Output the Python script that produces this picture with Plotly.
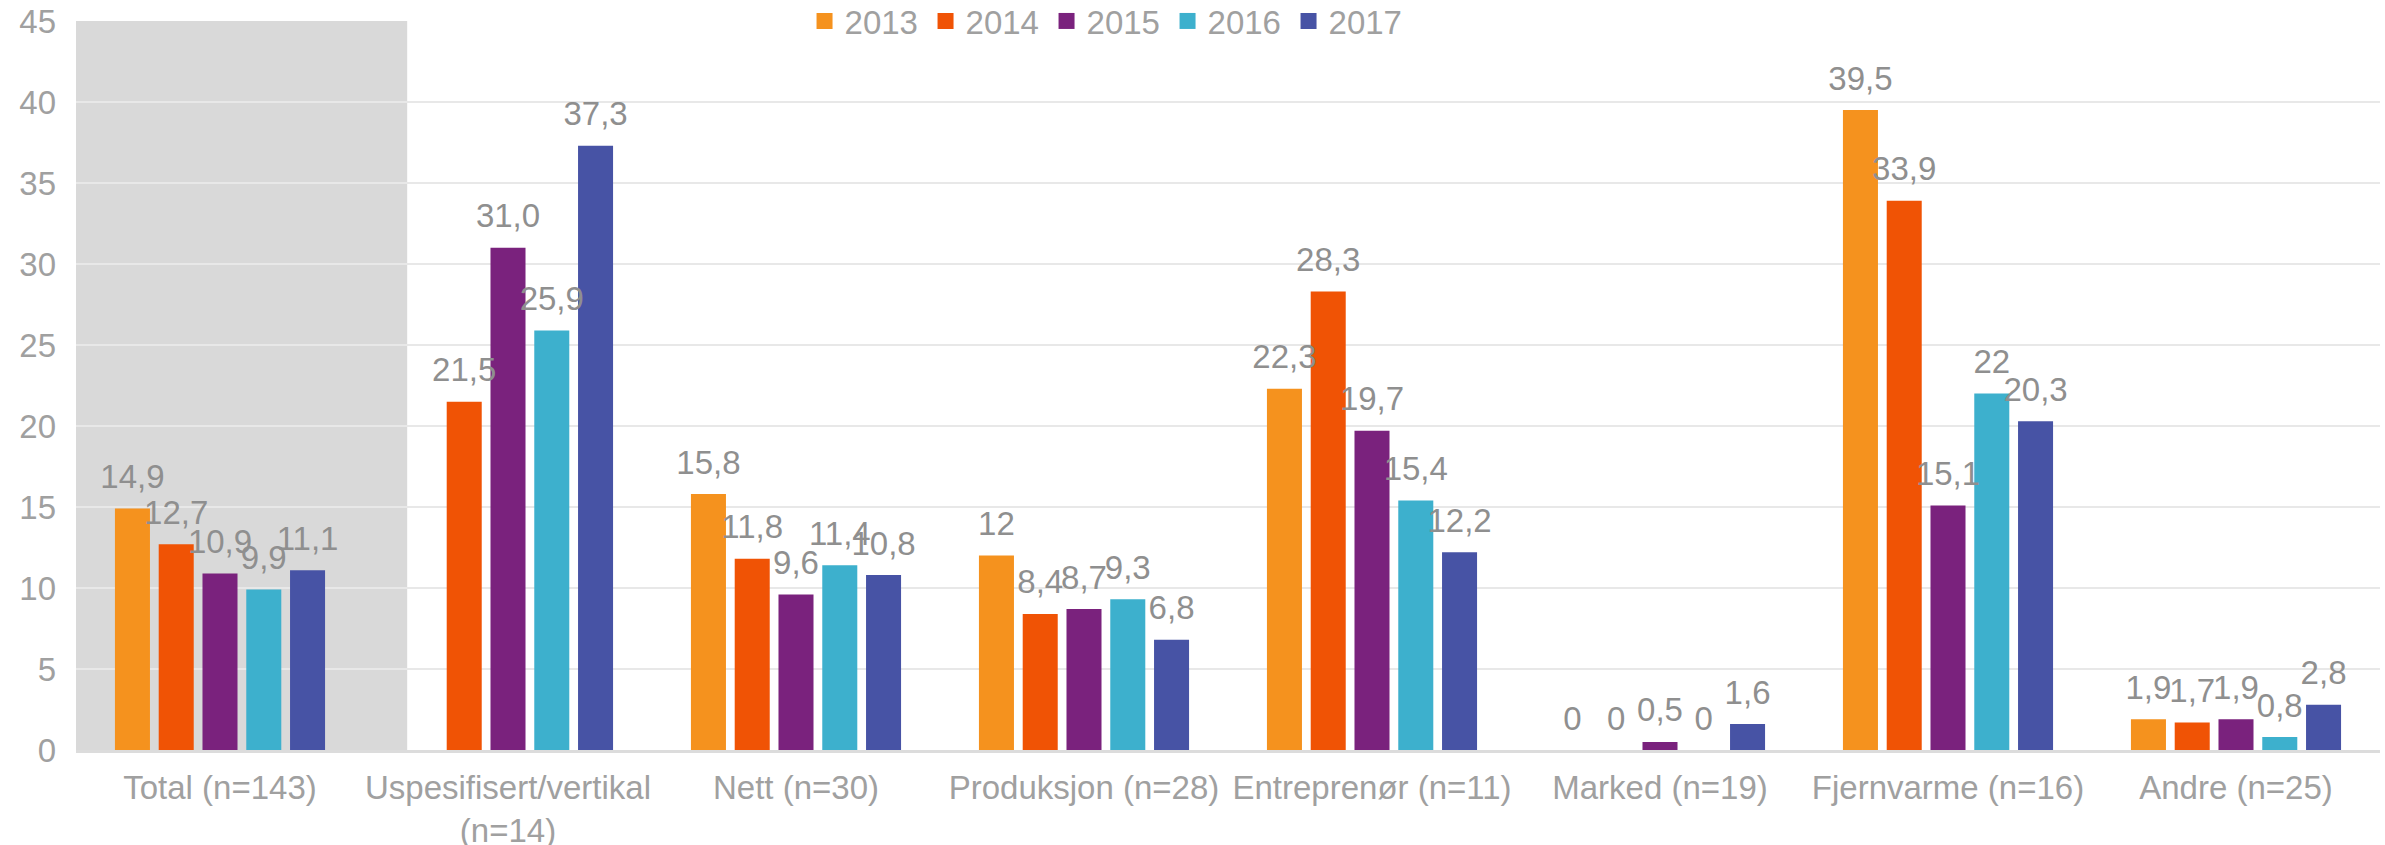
import plotly.graph_objects as go

categories = ["Total (n=143)", "Uspesifisert/vertikal<br>(n=14)", "Nett (n=30)", "Produksjon (n=28)",
              "Entreprenør (n=11)", "Marked (n=19)", "Fjernvarme (n=16)", "Andre (n=25)"]
years = ["2013", "2014", "2015", "2016", "2017"]

v2013 = [14.9, None, 15.8, 12, 22.3, 0, 39.5, 1.9]
v2014 = [12.7, 21.5, 11.8, 8.4, 28.3, 0, 33.9, 1.7]
v2015 = [10.9, 31.0, 9.6, 8.7, 19.7, 0.5, 15.1, 1.9]
v2016 = [9.9, 25.9, 11.4, 9.3, 15.4, 0, 22, 0.8]
v2017 = [11.1, 37.3, 10.8, 6.8, 12.2, 1.6, 20.3, 2.8]

t2013 = ["14,9", "", "15,8", "12", "22,3", "0", "39,5", "1,9"]
t2014 = ["12,7", "21,5", "11,8", "8,4", "28,3", "0", "33,9", "1,7"]
t2015 = ["10,9", "31,0", "9,6", "8,7", "19,7", "0,5", "15,1", "1,9"]
t2016 = ["9,9", "25,9", "11,4", "9,3", "15,4", "0", "22", "0,8"]
t2017 = ["11,1", "37,3", "10,8", "6,8", "12,2", "1,6", "20,3", "2,8"]

series = [v2013, v2014, v2015, v2016, v2017]
texts = [t2013, t2014, t2015, t2016, t2017]
colors = ["#F5921E", "#F05305", "#7A227D", "#3DB0CD", "#4753A5"]

FONT = "Liberation Sans, Arial, sans-serif"
FS = 33
fig = go.Figure()
for name, vals, col in zip(years, series, colors):
    fig.add_trace(go.Bar(name=name, x=categories, y=vals, marker_color=col,
                         marker_line_width=0, offsetgroup=name, showlegend=False))
for name, vals, txt, col in zip(years, series, texts, colors):
    fig.add_trace(go.Scatter(
        name=name, x=categories, y=vals, text=txt, mode="markers+text",
        textposition="top center",
        marker=dict(size=18, opacity=0), offsetgroup=name, showlegend=False,
        hoverinfo="skip", cliponaxis=False,
        textfont=dict(family=FONT, size=FS, color="#8f8f8f"),
    ))
# legend entries with larger square swatches
for name, col in zip(years, colors):
    fig.add_trace(go.Scatter(
        name=name, x=[categories[0]], y=[None], mode="markers", offsetgroup=name,
        marker=dict(symbol="square", size=16, color=col), showlegend=True,
    ))

fig.add_shape(type="rect", xref="x", yref="y", x0=-0.5, x1=0.65, y0=0, y1=45,
              fillcolor="#D9D9D9", line_width=0, layer="below")

fig.update_layout(
    width=2385, height=845,
    barmode="group", bargap=0.24, bargroupgap=0.2,
    scattermode="group", scattergap=0.24,
    plot_bgcolor="white", paper_bgcolor="white",
    margin=dict(l=76, r=5, t=21, b=95, autoexpand=False),
    font=dict(family=FONT, size=FS, color="#a0a0a0"),
    legend=dict(orientation="h", x=0.4475, xanchor="center", y=1.0, yanchor="middle",
                bgcolor="rgba(0,0,0,0)", font=dict(size=FS, color="#a0a0a0"),
                itemwidth=30, entrywidth=76, entrywidthmode="pixels"),
    showlegend=True,
)
fig.update_yaxes(range=[0, 45], dtick=5, showgrid=True, gridcolor="#e8e8e8", gridwidth=2,
                 zeroline=False, showline=False, ticks="", ticklabelstandoff=19,
                 tickfont=dict(size=FS, color="#a0a0a0"))
fig.update_xaxes(showline=True, linecolor="#dcdcdc", linewidth=3, ticks="",
                 tickfont=dict(size=FS, color="#a0a0a0"), ticklabelstandoff=6)

fig.write_html("out.html", config={"displayModeBar": False},
               post_script="document.body.style.margin='0';document.body.style.overflow='hidden';")
